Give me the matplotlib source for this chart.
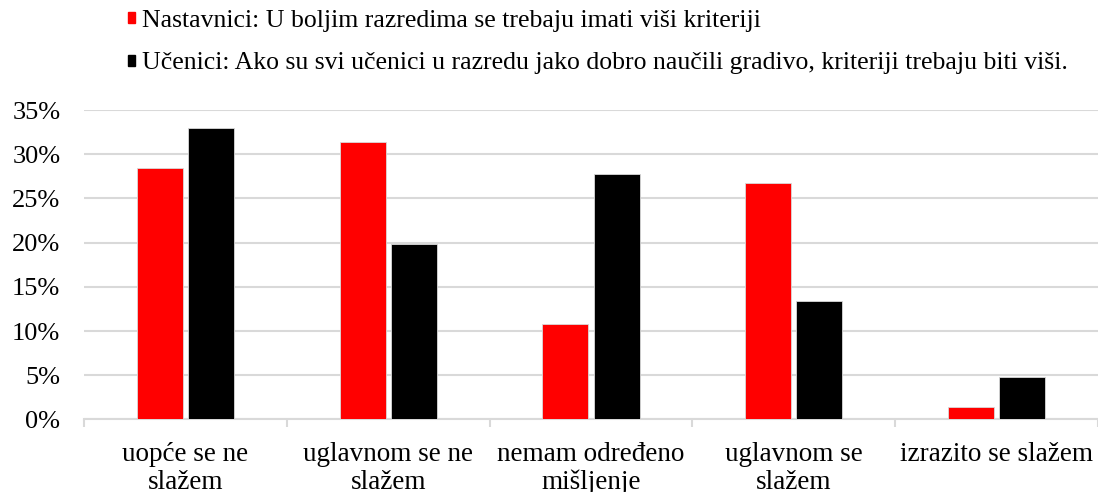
import matplotlib.pyplot as plt
from matplotlib.patches import Patch
from matplotlib.ticker import PercentFormatter, FixedLocator
import numpy as np

plt.rcParams['font.family'] = ['Liberation Serif', 'DejaVu Serif']

categories = ["uopće se ne\nslažem", "uglavnom se ne\nslažem", "nemam određeno\nmišljenje",
              "uglavnom se\nslažem", "izrazito se slažem"]
nastavnici = [28.4, 31.4, 10.8, 26.8, 1.4]
ucenici = [33.0, 19.9, 27.8, 13.4, 4.8]
labels = ["Nastavnici: U boljim razredima se trebaju imati viši kriteriji",
          "Učenici: Ako su svi učenici u razredu jako dobro naučili gradivo, kriteriji trebaju biti viši."]
colors = ["#ff0000", "#000000"]

fig = plt.figure(figsize=(10.98, 4.92), dpi=100)
ax = fig.add_axes([0.0765, 0.1474, 0.9235, 0.629])

x = np.arange(len(categories))
w = 0.227
ax.bar(x - 0.126, nastavnici, w, color=colors[0], edgecolor="#d9d9d9", linewidth=0.6, zorder=3)
ax.bar(x + 0.126, ucenici, w, color=colors[1], edgecolor="#d9d9d9", linewidth=0.6, zorder=3)

ax.set_xlim(-0.5, len(categories) - 0.5)
ax.set_ylim(0, 35)
ax.set_yticks(np.arange(0, 36, 5))
ax.yaxis.set_major_formatter(PercentFormatter(decimals=0))
ax.grid(axis="y", color="#d9d9d9", linewidth=1.5, zorder=0)

ax.set_xticks(x)
ax.set_xticklabels(categories, linespacing=1.15)
ax.xaxis.set_minor_locator(FixedLocator(np.arange(-0.5, len(categories), 1)))
ax.tick_params(axis="x", which="major", length=0, pad=16, labelsize=19.5)
ax.tick_params(axis="x", which="minor", length=6, color="#d9d9d9", width=1.5)
ax.tick_params(axis="y", length=0, pad=17, labelsize=19)

for s in ["top", "right", "left"]:
    ax.spines[s].set_visible(False)
ax.spines["bottom"].set_color("#d9d9d9")
ax.spines["bottom"].set_linewidth(1.5)

handles = [Patch(color=c) for c in colors]
fig.legend(handles, labels, loc="upper left", bbox_to_anchor=(0.117, 0.98),
           frameon=False, fontsize=18.5, handlelength=0.27, handleheight=0.27,
           handletextpad=0.25, labelspacing=0.8, borderpad=0, borderaxespad=0)

fig.savefig("out.png", dpi=100)
